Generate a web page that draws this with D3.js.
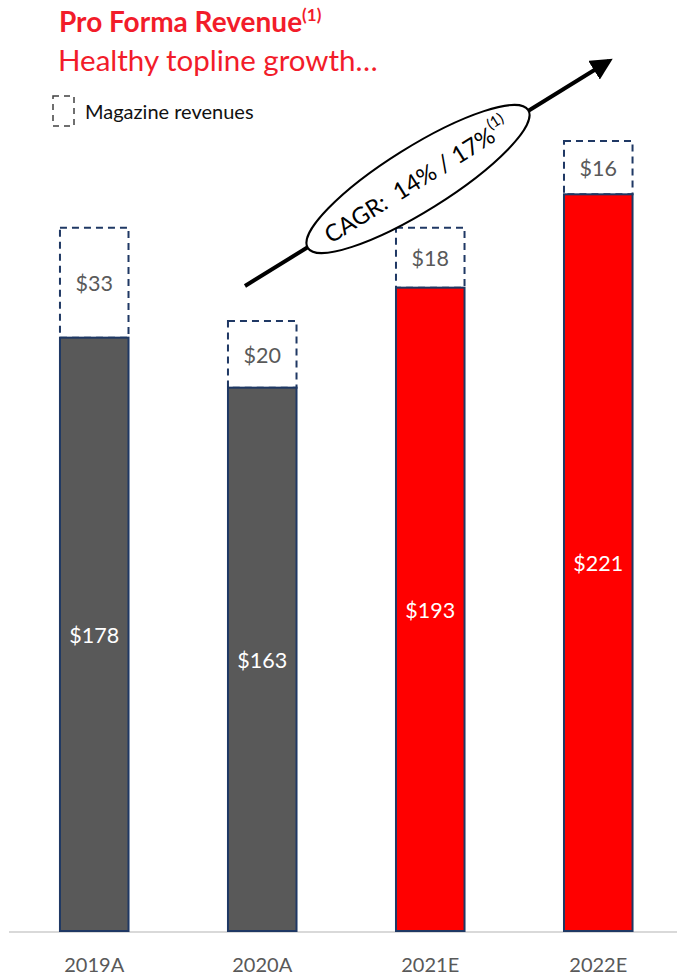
<!DOCTYPE html>
<html>
<head>
<meta charset="utf-8">
<script src="https://cdn.jsdelivr.net/npm/d3@7"></script>
<style>
  body { margin: 0; background: #fff; }
  svg { display: block; font-family: Lato, "Open Sans", sans-serif; }
</style>
</head>
<body>
<div id="chart"></div>
<script>
const years = ["2019A", "2020A", "2021E", "2022E"];
const coreRevenue = [178, 163, 193, 221];
const magazineRevenue = [33, 20, 18, 16];
const barColors = ["#595959", "#595959", "#ff0000", "#ff0000"];
const cagrText = "CAGR:  14% / 17%";

const width = 677;
const height = 975;
const red = "#f21c2a";
const navy = "#1f3864";

const svg = d3
  .select("#chart")
  .append("svg")
  .attr("width", width)
  .attr("height", height);

// titles
const title = svg
  .append("text")
  .attr("x", 59)
  .attr("y", 32)
  .attr("fill", red)
  .attr("font-size", 28)
  .attr("font-weight", "bold");
title.append("tspan").text("Pro Forma Revenue");
title.append("tspan").attr("font-size", 17).attr("dy", -11).text("(1)");

svg
  .append("text")
  .attr("x", 58)
  .attr("y", 71)
  .attr("fill", red)
  .attr("font-size", 29.5)
  .text("Healthy topline growth…");

// legend
svg
  .append("rect")
  .attr("x", 53)
  .attr("y", 96)
  .attr("width", 21)
  .attr("height", 30)
  .attr("fill", "none")
  .attr("stroke", "#404040")
  .attr("stroke-width", 1.5)
  .attr("stroke-dasharray", "6,5");
svg
  .append("text")
  .attr("x", 85)
  .attr("y", 119)
  .attr("font-size", 20)
  .attr("fill", "#111")
  .text("Magazine revenues");

const x = d3.scaleBand().domain(years).range([-39.5, 732]).padding(0.592);
const y = d3.scaleLinear().domain([0, 240]).range([931, 131]);

// baseline
svg
  .append("line")
  .attr("x1", 9)
  .attr("x2", width)
  .attr("y1", 932)
  .attr("y2", 932)
  .attr("stroke", "#d9d9d9")
  .attr("stroke-width", 2);

const data = years.map((d, i) => ({
  year: d,
  core: coreRevenue[i],
  mag: magazineRevenue[i],
  color: barColors[i],
}));

const g = svg.append("g");

// magazine dashed boxes
g.selectAll(".mag")
  .data(data)
  .join("rect")
  .attr("class", "mag")
  .attr("x", (d) => x(d.year))
  .attr("y", (d) => y(d.core + d.mag))
  .attr("width", x.bandwidth())
  .attr("height", (d) => y(d.core) - y(d.core + d.mag))
  .attr("fill", "none")
  .attr("stroke", navy)
  .attr("stroke-width", 2)
  .attr("stroke-dasharray", "7,5");

// core bars
g.selectAll(".core")
  .data(data)
  .join("rect")
  .attr("class", "core")
  .attr("x", (d) => x(d.year))
  .attr("y", (d) => y(d.core))
  .attr("width", x.bandwidth())
  .attr("height", (d) => y(0) - y(d.core))
  .attr("fill", (d) => d.color)
  .attr("stroke", navy)
  .attr("stroke-width", 2);

// labels
g.selectAll(".coreLabel")
  .data(data)
  .join("text")
  .attr("x", (d) => x(d.year) + x.bandwidth() / 2)
  .attr("y", (d) => (y(d.core) + y(0)) / 2)
  .attr("dy", "0.38em")
  .attr("text-anchor", "middle")
  .attr("font-size", 21.5)
  .attr("fill", "#fff")
  .text((d) => "$" + d.core);

g.selectAll(".magLabel")
  .data(data)
  .join("text")
  .attr("x", (d) => x(d.year) + x.bandwidth() / 2)
  .attr("y", (d) => (y(d.core) + y(d.core + d.mag)) / 2)
  .attr("dy", "0.38em")
  .attr("text-anchor", "middle")
  .attr("font-size", 21.5)
  .attr("fill", "#595959")
  .text((d) => "$" + d.mag);

// x axis labels
g.selectAll(".yr")
  .data(years)
  .join("text")
  .attr("x", (d) => x(d) + x.bandwidth() / 2)
  .attr("y", 972)
  .attr("text-anchor", "middle")
  .attr("font-size", 20)
  .attr("fill", "#595959")
  .text((d) => d);

// CAGR arrow
svg
  .append("defs")
  .append("marker")
  .attr("id", "head")
  .attr("viewBox", "0 0 10 10")
  .attr("refX", 8)
  .attr("refY", 5)
  .attr("markerWidth", 5.5)
  .attr("markerHeight", 5.5)
  .attr("orient", "auto")
  .append("path")
  .attr("d", "M0,0 L10,5 L0,10 z")
  .attr("fill", "#000");

svg
  .append("line")
  .attr("x1", 245)
  .attr("y1", 286)
  .attr("x2", 609)
  .attr("y2", 61)
  .attr("stroke", "#000")
  .attr("stroke-width", 4)
  .attr("marker-end", "url(#head)");

const cagr = svg
  .append("g")
  .attr("transform", "translate(418,179) rotate(-32)");
cagr
  .append("ellipse")
  .attr("rx", 130)
  .attr("ry", 32)
  .attr("fill", "#fff")
  .attr("stroke", "#000")
  .attr("stroke-width", 2);
const ct = cagr
  .append("text")
  .attr("x", -2)
  .attr("y", 9)
  .attr("text-anchor", "middle")
  .attr("font-size", 23.5)
  .attr("fill", "#000")
  .attr("xml:space", "preserve");
ct.append("tspan").text(cagrText);
ct.append("tspan").attr("font-size", 15).attr("dy", -12).text("(1)");
</script>
</body>
</html>
